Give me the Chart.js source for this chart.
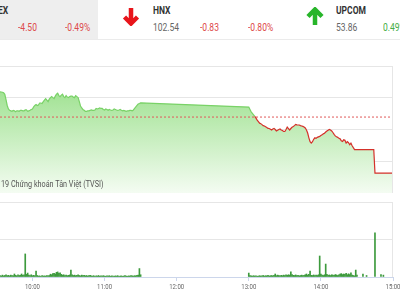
<!DOCTYPE html>
<html>
<head>
<meta charset="utf-8">
<script src="https://cdn.jsdelivr.net/npm/chart.js@4.4.1/dist/chart.umd.min.js"></script>
<style>
  html, body { margin: 0; padding: 0; background: #fff; }
  body { width: 400px; height: 300px; overflow: hidden; position: relative; font-family: Roboto, sans-serif; }
  .abs { position: absolute; }
  .t { position: absolute; font-size: 10px; line-height: 10px; white-space: nowrap; transform: scaleX(0.85); transform-origin: 0 0; }
  .b { font-weight: bold; color: #333; }
  .v { color: #666; }
  .dn { color: #dd4a4a; }
  .up { color: #45ad45; }
</style>
</head>
<body>
<div class="abs" style="left:0;top:0;width:98px;height:39px;background:#eeeeee"></div>
<div class="abs" style="left:0;top:39px;width:400px;height:1px;background:#ebebeb"></div>

<div class="t b" style="left:-31px;top:6px">VN-INDEX</div>
<div class="t dn" style="left:18px;top:23px">-4.50</div>
<div class="t dn" style="left:65px;top:23px">-0.49%</div>

<svg class="abs" style="left:122px;top:7px" width="18" height="19" viewBox="0 0 18 19">
  <path d="M9 1V16M2.5 10L9 16.5L15.5 10" stroke="#e8151b" stroke-width="4.5" fill="none"/>
</svg>
<div class="t b" style="left:153px;top:6px">HNX</div>
<div class="t v" style="left:153px;top:23px">102.54</div>
<div class="t dn" style="left:200px;top:23px">-0.83</div>
<div class="t dn" style="left:248px;top:23px">-0.80%</div>

<svg class="abs" style="left:305px;top:7px" width="20" height="19" viewBox="0 0 20 19">
  <path d="M10 18V3M3 9.5L10 2.5L17 9.5" stroke="#27b52a" stroke-width="4.5" fill="none"/>
</svg>
<div class="t b" style="left:336px;top:6px">UPCOM</div>
<div class="t v" style="left:336px;top:23px">53.86</div>
<div class="t up" style="left:383px;top:23px">0.49%</div>

<canvas id="priceChart" class="abs" style="left:0;top:66px" width="393" height="127"></canvas>
<div class="abs" style="left:392px;top:66px;width:1px;height:127px;background:#e6e6e6"></div>
<div class="t" style="left:1px;top:180px;font-size:8.5px;line-height:9px;color:#555;transform:scaleX(0.85);z-index:2">19 Chứng khoán Tân Việt (TVSI)</div>

<canvas id="volChart" class="abs" style="left:0;top:202px" width="400" height="98"></canvas>
<div class="abs" style="left:392px;top:202px;width:1px;height:75px;background:#e6e6e6"></div>

<script>
// VN-Index intraday, one value per minute
const axisStart = '09:33';
const axisEnd = '15:00';
const refValue = 918.50;

const sessionAMStart = '09:33';
const priceAM = [
  920.53, 920.51, 920.49, 920.45, 920.33, 919.90, 919.43, 919.15, 919.04, 919.00,
  918.96, 919.04, 919.00, 918.92, 919.00, 919.00, 918.96, 919.04, 919.04, 919.00,
  919.00, 919.07, 919.07, 918.96, 919.00, 919.04, 919.11, 919.15, 919.31, 919.43,
  919.51, 919.43, 919.47, 919.63, 919.63, 919.59, 919.74, 919.86, 919.98, 919.86,
  919.74, 919.94, 920.06, 920.14, 920.06, 919.98, 920.18, 920.33, 920.41, 920.22,
  920.14, 920.26, 920.33, 920.14, 920.06, 920.22, 920.10, 920.06, 920.14, 920.18,
  920.18, 920.10, 920.06, 920.22, 920.14, 920.06, 919.74, 919.39, 919.23, 919.11,
  919.04, 918.96, 918.96, 919.00, 919.00, 919.04, 919.07, 919.04, 919.04, 919.07,
  919.19, 919.15, 919.19, 919.23, 919.19, 919.19, 919.11, 919.07, 919.15, 919.11,
  919.04, 919.11, 919.07, 919.04, 919.07, 919.15, 919.11, 919.07, 919.04, 919.07,
  919.11, 919.04, 919.00, 919.04, 919.00, 918.96, 919.00, 919.00, 919.04, 919.04,
  919.00, 919.07, 919.19, 919.31, 919.43, 919.55, 919.59, 919.64
];

const sessionPMStart = '13:00';
const pricePM = [
  919.30, 919.11, 918.92, 918.80, 918.68, 918.56, 918.41, 918.25, 918.13, 918.01,
  917.97, 917.89, 917.81, 917.78, 917.72, 917.66, 917.59, 917.58, 917.52, 917.46,
  917.54, 917.59, 917.50, 917.38, 917.44, 917.50, 917.54, 917.46, 917.42, 917.34,
  917.34, 917.50, 917.70, 917.58, 917.46, 917.58, 917.68, 917.74, 917.81, 917.91,
  917.87, 917.86, 917.86, 917.81, 917.78, 917.75, 917.70, 917.62, 917.46, 917.22,
  916.83, 916.52, 916.41, 916.52, 916.71, 916.83, 916.79, 916.87, 916.91, 916.95,
  917.01, 917.07, 917.15, 917.20, 917.30, 917.38, 917.44, 917.50, 917.46, 917.38,
  917.26, 917.11, 916.99, 916.91, 916.87, 916.79, 916.75, 916.59, 916.54, 916.67,
  916.63, 916.41, 916.52, 916.44, 916.28, 916.40, 916.20, 916.04, 915.89, 915.89,
  915.89
];

const closeTimes = ['14:44', '14:45', '15:00'];
const closeValues = [915.89, 914.00, 914.00];

// matched volume (million shares), one bar per minute
const volAM = [
  0.08, 0.05, 0.10, 0.06, 0.08, 0.12, 0.07, 0.09, 0.06, 0.10,
  0.08, 0.07, 0.16, 0.09, 0.06, 0.11, 0.08, 0.10, 0.16, 0.09,
  0.12, 1.23, 0.14, 0.21, 0.10, 0.08, 0.12, 0.07, 0.09, 0.06,
  0.32, 0.08, 0.05, 0.06, 0.04, 0.07, 0.05, 0.06, 0.05, 0.07,
  0.06, 0.08, 0.15, 0.12, 0.18, 0.20, 0.16, 0.25, 0.27, 0.20,
  0.22, 0.14, 0.10, 0.12, 0.08, 0.10, 0.07, 0.09, 0.11, 0.37,
  0.12, 0.08, 0.10, 0.07, 0.09, 0.12, 0.08, 0.06, 0.10, 0.07,
  0.09, 0.06, 0.08, 0.05, 0.07, 0.09, 0.06, 0.05, 0.07, 0.04,
  0.06, 0.05, 0.08, 0.04, 0.06, 0.05, 0.07, 0.05, 0.04, 0.06,
  0.05, 0.07, 0.04, 0.06, 0.05, 0.04, 0.06, 0.05, 0.07, 0.04,
  0.05, 0.06, 0.04, 0.05, 0.07, 0.05, 0.04, 0.06, 0.05, 0.08,
  0.06, 0.05, 0.07, 0.06, 0.09, 0.10, 0.45, 0.12
];
const volPM = [
  0.21, 0.08, 0.06, 0.05, 0.07, 0.05, 0.06, 0.04, 0.05, 0.07,
  0.05, 0.06, 0.08, 0.05, 0.07, 0.06, 0.09, 0.05, 0.07, 0.08,
  0.06, 0.09, 0.16, 0.07, 0.10, 0.08, 0.06, 0.09, 0.07, 0.10,
  0.08, 0.11, 0.09, 0.12, 0.10, 0.27, 0.13, 0.09, 0.08, 0.11,
  0.07, 0.09, 0.06, 0.08, 0.10, 0.07, 0.09, 0.12, 0.16, 0.10,
  0.14, 0.32, 0.09, 0.08, 0.11, 0.07, 0.10, 0.08, 0.12, 1.12,
  0.15, 0.10, 0.08, 0.12, 0.69, 0.14, 0.09, 0.11, 0.08, 0.12,
  0.10, 0.09, 0.13, 0.11, 0.08, 0.12, 0.15, 0.18, 0.13, 0.16,
  0.14, 0.20, 0.12, 0.17, 0.13, 0.22, 0.10, 0.08, 0.06, 0.37,
  0.10
];
const volExtraTimes = ['14:35', '14:38', '14:45', '14:50', '14:52'];
const volExtraValues = [0.16, 0.08, 2.35, 0.13, 0.10];

const tickLabels = ['10:00', '11:00', '12:00', '13:00', '14:00', '15:00'];

function toMin(s) {
  const [h, m] = s.split(':').map(Number);
  return h * 60 + m;
}

const xMin = toMin(axisStart);
const xMax = toMin(axisEnd);
const tickValues = tickLabels.map(toMin);

function session(start, values) {
  const t0 = toMin(start);
  return values.map((v, i) => ({ x: t0 + i, y: v }));
}

const priceData = session(sessionAMStart, priceAM)
  .concat(session(sessionPMStart, pricePM))
  .concat(closeTimes.map((t, i) => ({ x: toMin(t), y: closeValues[i] })));

const volData = session(sessionAMStart, volAM)
  .concat(session(sessionPMStart, volPM))
  .concat(volExtraTimes.map((t, i) => ({ x: toMin(t), y: volExtraValues[i] })));

const upColor = '#79d267';
const downColor = '#d4312a';

new Chart(document.getElementById('priceChart'), {
  type: 'line',
  data: {
    datasets: [{
      // the line, green above the reference, red below
      data: priceData,
      order: 0,
      borderColor: upColor,
      borderWidth: 1.2,
      pointRadius: 0,
      tension: 0,
      fill: false,
      segment: {
        borderColor: ctx => (ctx.p0.parsed.y < refValue || ctx.p1.parsed.y < refValue) ? downColor : upColor
      }
    }, {
      // reference (previous close)
      data: [{ x: xMin, y: refValue }, { x: xMax, y: refValue }],
      order: 1,
      borderColor: '#e05a5a',
      borderWidth: 1,
      borderDash: [2, 2],
      pointRadius: 0,
      fill: false
    }, {
      // area under the line
      data: priceData,
      order: 2,
      borderWidth: 0,
      borderColor: 'rgba(0,0,0,0)',
      pointRadius: 0,
      tension: 0,
      fill: 'start',
      backgroundColor: function(context) {
        const { ctx, chartArea } = context.chart;
        if (!chartArea) return 'rgba(140,220,124,0.5)';
        const gradient = ctx.createLinearGradient(0, chartArea.top, 0, chartArea.bottom);
        gradient.addColorStop(0, '#8ddc7c');
        gradient.addColorStop(1, '#f4fcf2');
        return gradient;
      }
    }]
  },
  options: {
    responsive: false,
    animation: false,
    events: [],
    layout: { padding: 0 },
    plugins: {
      legend: { display: false },
      tooltip: { enabled: false }
    },
    scales: {
      x: { type: 'linear', min: xMin, max: xMax, display: false },
      y: {
        min: 912.4,
        max: 922.6,
        ticks: { display: false, count: 5 },
        grid: { color: '#e6e6e6', drawTicks: false },
        border: { display: false }
      }
    }
  }
});

// time labels, drawn narrow like the original
const narrowTicks = {
  id: 'narrowTicks',
  afterDraw(chart) {
    const { ctx, scales: { x } } = chart;
    ctx.save();
    ctx.font = '7.5px Roboto';
    ctx.fillStyle = '#666';
    ctx.textAlign = 'center';
    ctx.textBaseline = 'middle';
    tickValues.forEach((v, i) => {
      ctx.save();
      ctx.translate(x.getPixelForValue(v), x.top + 10);
      ctx.scale(0.8, 1);
      ctx.fillText(tickLabels[i], 0, 0);
      ctx.restore();
    });
    ctx.restore();
  }
};

new Chart(document.getElementById('volChart'), {
  type: 'bar',
  data: {
    datasets: [{
      data: volData,
      backgroundColor: '#3d9a3d',
      barThickness: 1
    }]
  },
  options: {
    responsive: false,
    animation: false,
    events: [],
    layout: { padding: { right: 7 } },
    plugins: {
      legend: { display: false },
      tooltip: { enabled: false }
    },
    scales: {
      x: {
        type: 'linear',
        min: xMin,
        max: xMax,
        offset: false,
        afterBuildTicks: axis => { axis.ticks = tickValues.map(v => ({ value: v })); },
        afterFit: axis => { axis.height = 23; },
        ticks: { display: false },
        grid: { offset: false, drawOnChartArea: false, drawTicks: true, tickLength: 4, color: '#ccd6eb' },
        border: { display: true, color: '#ccd6eb' }
      },
      y: {
        min: 0,
        max: 4,
        ticks: { display: false, count: 3 },
        grid: { color: '#e6e6e6', drawTicks: false },
        border: { display: false }
      }
    }
  },
  plugins: [narrowTicks]
});
</script>
</body>
</html>
